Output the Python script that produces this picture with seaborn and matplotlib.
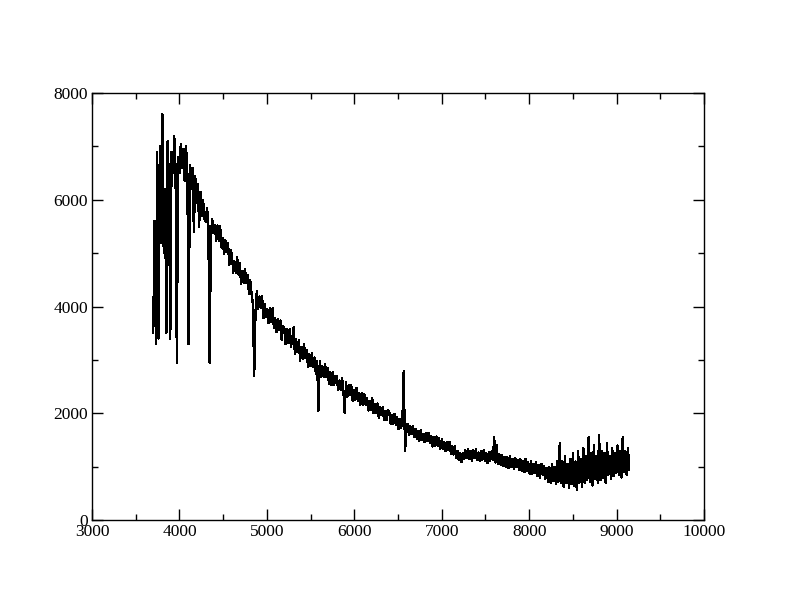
import numpy as np
import pandas as pd
import matplotlib
matplotlib.use("Agg")
import matplotlib.pyplot as plt
from matplotlib.ticker import MultipleLocator
import seaborn as sns

# ---- data ----
wavelength = [
    3700, 3715, 3730, 3745, 3760, 3775, 3790, 3805, 3820, 3835, 3850, 3865, 3880, 3895, 3910, 3925, 3940, 3955, 3970, 3985,
    4000, 4015, 4030, 4045, 4060, 4075, 4090, 4105, 4120, 4135, 4150, 4165, 4180, 4195, 4210, 4225, 4240, 4255, 4270, 4285,
    4300, 4315, 4330, 4345, 4360, 4375, 4390, 4405, 4420, 4435, 4450, 4465, 4480, 4495, 4510, 4525, 4540, 4555, 4570, 4585,
    4600, 4615, 4630, 4645, 4660, 4675, 4690, 4705, 4720, 4735, 4750, 4765, 4780, 4795, 4810, 4825, 4840, 4855, 4870, 4885,
    4900, 4915, 4930, 4945, 4960, 4975, 4990, 5005, 5020, 5035, 5050, 5065, 5080, 5095, 5110, 5125, 5140, 5155, 5170, 5185,
    5200, 5215, 5230, 5245, 5260, 5275, 5290, 5305, 5320, 5335, 5350, 5365, 5380, 5395, 5410, 5425, 5440, 5455, 5470, 5485,
    5500, 5515, 5530, 5545, 5560, 5575, 5590, 5605, 5620, 5635, 5650, 5665, 5680, 5695, 5710, 5725, 5740, 5755, 5770, 5785,
    5800, 5815, 5830, 5845, 5860, 5875, 5890, 5905, 5920, 5935, 5950, 5965, 5980, 5995, 6010, 6025, 6040, 6055, 6070, 6085,
    6100, 6115, 6130, 6145, 6160, 6175, 6190, 6205, 6220, 6235, 6250, 6265, 6280, 6295, 6310, 6325, 6340, 6355, 6370, 6385,
    6400, 6415, 6430, 6445, 6460, 6475, 6490, 6505, 6520, 6535, 6550, 6565, 6580, 6595, 6610, 6625, 6640, 6655, 6670, 6685,
    6700, 6715, 6730, 6745, 6760, 6775, 6790, 6805, 6820, 6835, 6850, 6865, 6880, 6895, 6910, 6925, 6940, 6955, 6970, 6985,
    7000, 7015, 7030, 7045, 7060, 7075, 7090, 7105, 7120, 7135, 7150, 7165, 7180, 7195, 7210, 7225, 7240, 7255, 7270, 7285,
    7300, 7315, 7330, 7345, 7360, 7375, 7390, 7405, 7420, 7435, 7450, 7465, 7480, 7495, 7510, 7525, 7540, 7555, 7570, 7585,
    7600, 7615, 7630, 7645, 7660, 7675, 7690, 7705, 7720, 7735, 7750, 7765, 7780, 7795, 7810, 7825, 7840, 7855, 7870, 7885,
    7900, 7915, 7930, 7945, 7960, 7975, 7990, 8005, 8020, 8035, 8050, 8065, 8080, 8095, 8110, 8125, 8140, 8155, 8170, 8185,
    8200, 8215, 8230, 8245, 8260, 8275, 8290, 8305, 8320, 8335, 8350, 8365, 8380, 8395, 8410, 8425, 8440, 8455, 8470, 8485,
    8500, 8515, 8530, 8545, 8560, 8575, 8590, 8605, 8620, 8635, 8650, 8665, 8680, 8695, 8710, 8725, 8740, 8755, 8770, 8785,
    8800, 8815, 8830, 8845, 8860, 8875, 8890, 8905, 8920, 8935, 8950, 8965, 8980, 8995, 9010, 9025, 9040, 9055, 9070, 9085,
    9100, 9115, 9130, 9145,
]

flux = [
    3500, 5600, 3300, 6900, 3400, 7000, 5200, 7600, 5000, 6200, 3500, 7100, 6300, 3400, 6900, 6500, 7200, 6600, 2950, 6800,
    6500, 7050, 6600, 6950, 6350, 7000, 6550, 3300, 6650, 6200, 6600, 5400, 6450, 5950, 6300, 5500, 6150, 5700, 6000, 5650,
    5590, 5838, 5596, 2950, 5362, 5640, 5378, 5526, 5224, 5522, 5230, 5508, 5106, 5284, 4982, 5240, 5018, 5196, 4784, 5062,
    4970, 4638, 4846, 4624, 4922, 4600, 4808, 4426, 4674, 4442, 4700, 4438, 4596, 4244, 4492, 4230, 4050, 2700, 3900, 4300,
    3950, 4190, 3980, 4190, 3780, 4040, 3810, 3950, 3690, 3970, 3710, 3970, 3610, 3780, 3520, 3760, 3570, 3740, 3370, 3630,
    3580, 3296, 3572, 3328, 3574, 3240, 3396, 3612, 3118, 3384, 3150, 3376, 2992, 3248, 3014, 3290, 3036, 3192, 2868, 3114,
    2880, 3129, 2878, 3047, 2746, 2985, 2050, 2983, 2692, 2881, 2680, 2929, 2688, 2847, 2556, 2775, 2534, 2783, 2542, 2701,
    2690, 2434, 2618, 2432, 2666, 2420, 2000, 2588, 2312, 2526, 2350, 2534, 2238, 2432, 2256, 2480, 2234, 2388, 2162, 2376,
    2150, 2354, 2158, 2292, 2056, 2240, 2064, 2278, 2002, 2166, 2010, 2184, 1918, 2122, 1966, 2110, 1874, 2048, 1872, 2056,
    2020, 1805, 1960, 1805, 1990, 1785, 1940, 1705, 1890, 1735, 1870, 2800, 1300, 1645, 1800, 1605, 1760, 1615, 1760, 1565,
    1710, 1530, 1670, 1490, 1690, 1510, 1620, 1460, 1640, 1480, 1640, 1440, 1580, 1380, 1550, 1390, 1570, 1390, 1530, 1340,
    1510, 1330, 1460, 1290, 1460, 1310, 1465, 1250, 1395, 1230, 1380, 1170, 1300, 1130, 1260, 1090, 1260, 1140, 1310, 1160,
    1330, 1148, 1295, 1112, 1310, 1158, 1335, 1122, 1270, 1108, 1285, 1132, 1310, 1118, 1255, 1072, 1280, 1118, 1285, 1122,
    1550, 1080, 1400, 1050, 1230, 1030, 1220, 1010, 1190, 1000, 1180, 980, 1200, 1000, 1150, 960, 1170, 990, 1120, 950,
    1140, 930, 1110, 900, 1150, 920, 1080, 870, 1100, 860, 1060, 880, 1090, 830, 1040, 800, 1050, 840, 1020, 780,
    980, 720, 1000, 700, 1050, 730, 1000, 680, 1100, 720, 1450, 700, 1100, 620, 1200, 700, 1050, 600, 1150, 680,
    1250, 650, 1100, 560, 1300, 700, 1150, 620, 1350, 700, 1200, 760, 1550, 720, 1250, 650, 1400, 780, 1200, 700,
    1600, 750, 1300, 800, 1250, 700, 1450, 850, 1200, 780, 1350, 820, 1250, 880, 1400, 850, 1300, 800, 1550, 900,
    1300, 850, 1350, 950,
]

x_ticks = [3000, 4000, 5000, 6000, 7000, 8000, 9000, 10000]
y_ticks = [0, 2000, 4000, 6000, 8000]

df = pd.DataFrame({"wavelength": wavelength, "flux": flux})

# ---- styling ----
sns.set_style("ticks")
plt.rcParams["font.family"] = ["Liberation Serif", "DejaVu Serif"]

fig = plt.figure(figsize=(7.92, 6.12), dpi=100)
ax = fig.add_axes([0.1162, 0.150, 0.7727, 0.698])

sns.lineplot(data=df, x="wavelength", y="flux", ax=ax, color="black",
             linewidth=0.95, estimator=None, sort=False, antialiased=False)

ax.set_xlim(3000, 10000)
ax.set_ylim(0, 8000)
ax.set_xticks(x_ticks)
ax.set_yticks(y_ticks)
ax.xaxis.set_minor_locator(MultipleLocator(500))
ax.yaxis.set_minor_locator(MultipleLocator(1000))
ax.tick_params(which="both", direction="in", top=True, right=True,
               colors="black", labelsize=12.5)
ax.tick_params(which="major", length=8, width=1.0, pad=3)
ax.tick_params(which="minor", length=4.5, width=1.0)
ax.set_xlabel("")
ax.set_ylabel("")
for s in ax.spines.values():
    s.set_visible(True)
    s.set_color("black")
    s.set_linewidth(1.0)

fig.savefig("out.png", dpi=100, facecolor="white")
